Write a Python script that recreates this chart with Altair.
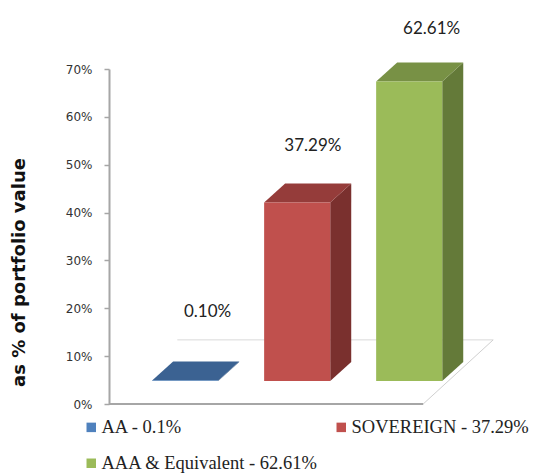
import altair as alt
import pandas as pd

categories = ["AA - 0.1%", "SOVEREIGN - 37.29%", "AAA & Equivalent - 62.61%"]
values = [0.10, 37.29, 62.61]
value_labels = ["0.10%", "37.29%", "62.61%"]
front_colors = ["#4f81bd", "#c0504d", "#9bbb59"]
top_colors = ["#3b6292", "#953c3a", "#789145"]
side_colors = ["#2f4f75", "#7a302e", "#647a39"]
legend_order = [0, 2, 1]
y_ticks = [0, 10, 20, 30, 40, 50, 60, 70]

HALF = 0.295
DX = 0.1875
DY = 3.97
BASE = 4.8
X_DOMAIN = [-0.68, 2.90]
Y_DOMAIN = [0, 70]
FLOOR_RIGHT = 2.125
FLOOR_BACK_RIGHT = 2.75
FLOOR_BACK_LEFT = -0.07
FLOOR_BACK_Y = 13.4
LABEL_DX = [0.2, 0.14, 0.2]
LABEL_LIFT = [19.1, 16.7, 15.8]

xs = alt.Scale(domain=X_DOMAIN, nice=False, zero=False)
ys = alt.Scale(domain=Y_DOMAIN, nice=False, zero=False)
y_axis = alt.Axis(
    values=y_ticks, labelExpr="datum.value + '%'", grid=False,
    domainColor="#a6a6a6", domainWidth=2, tickColor="#a6a6a6", tickSize=5, tickWidth=1.5,
    labelFont="DejaVu Sans", labelFontSize=12, labelColor="#333333", labelPadding=12,
    title="as % of portfolio value", titleFont="DejaVu Sans", titleFontSize=18,
    titleFontWeight="bold", titleColor="#111111", titleAnchor="middle",
    titleX=-81, titleY=203)
X = alt.X("x:Q", scale=xs, axis=None)
Y = alt.Y("y:Q", scale=ys, axis=y_axis)

front, side, top = [], [], []
for i, (c, v) in enumerate(zip(categories, values)):
    t = BASE + v
    front.append(dict(cat=c, x=i - HALF, x2=i + HALF, y=BASE, y2=t))
    side += [dict(cat=c, x=i + HALF, y=BASE, y2=t),
             dict(cat=c, x=i + HALF + DX, y=BASE + DY, y2=t + DY)]
    top += [dict(cat=c, y=t, x=i - HALF, x2=i + HALF),
            dict(cat=c, y=t + DY, x=i - HALF + DX, x2=i + HALF + DX)]

floor_back = pd.DataFrame([dict(x=FLOOR_BACK_LEFT, y=FLOOR_BACK_Y), dict(x=FLOOR_BACK_RIGHT, y=FLOOR_BACK_Y)])
floor_side = pd.DataFrame([dict(x=FLOOR_RIGHT, y=0), dict(x=FLOOR_BACK_RIGHT, y=FLOOR_BACK_Y)])
floor_front = pd.DataFrame([dict(x=X_DOMAIN[0], y=0), dict(x=FLOOR_RIGHT, y=0)])

layers = [
    alt.Chart(floor_back).mark_line(color="#d9d9d9", strokeWidth=1).encode(x=X, y=Y),
    alt.Chart(floor_side).mark_line(color="#d0d0d0", strokeWidth=1).encode(x=X, y=Y),
    alt.Chart(floor_front).mark_line(color="#a6a6a6", strokeWidth=2).encode(x=X, y=Y),
]
for i, c in enumerate(categories):
    sd = pd.DataFrame([r for r in side if r["cat"] == c])
    td = pd.DataFrame([r for r in top if r["cat"] == c])
    layers.append(alt.Chart(sd).mark_area(color=side_colors[i], clip=False).encode(x=X, y=Y, y2="y2:Q"))
    layers.append(alt.Chart(td).mark_area(color=top_colors[i], orient="horizontal", clip=False).encode(x=X, x2="x2:Q", y=Y))

bars = alt.Chart(pd.DataFrame(front)).mark_bar(clip=False).encode(
    x=X, x2="x2:Q", y=Y, y2="y2:Q",
    color=alt.Color("cat:N", sort=None,
                    scale=alt.Scale(domain=[categories[i] for i in legend_order],
                                    range=[front_colors[i] for i in legend_order]),
                    legend=alt.Legend(orient="none", legendX=-27, legendY=349, columns=2, title=None,
                                      symbolType="square", symbolSize=90, symbolStrokeWidth=0,
                                      labelFont="Liberation Serif", labelFontSize=18.5, labelColor="#222222",
                                      labelOffset=1, columnPadding=14, rowPadding=17, labelLimit=300)),
)
layers.append(bars)

labels = pd.DataFrame(dict(x=[i + d for i, d in enumerate(LABEL_DX)],
                           y=[v + l for v, l in zip(values, LABEL_LIFT)], t=value_labels))
layers.append(alt.Chart(labels).mark_text(font="Lato", fontSize=17, color="#222222", clip=False).encode(
    x=X, y=Y, text="t:N"))

chart = alt.layer(*layers).properties(
    width=401, height=335,
    padding={"left": 101, "top": 61, "right": 23, "bottom": 69},
    autosize=alt.AutoSizeParams(type="none"),
    background="white",
).configure_view(stroke=None)

chart.save("out.html", embed_options={"renderer": "svg", "actions": False})
